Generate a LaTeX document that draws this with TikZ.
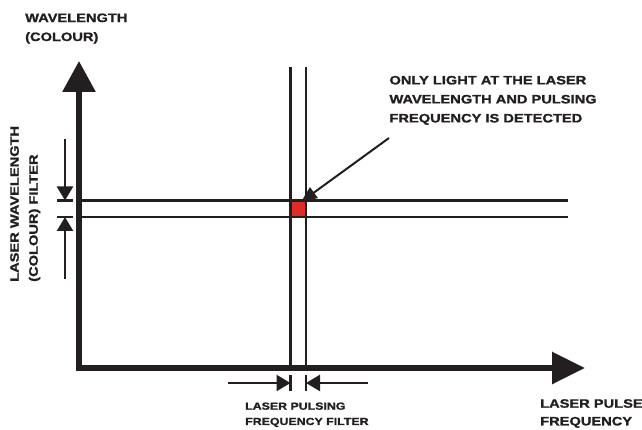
\documentclass[tikz,border=0pt]{standalone}
\usepackage{fontspec}
\setmainfont{Liberation Sans}
\newfontfamily\heavy[BoldFeatures={FakeStretch=1.2,FakeBold=1.3}]{Liberation Sans}
\usetikzlibrary{arrows.meta,positioning,calc}
\definecolor{ink}{RGB}{35,31,32}
\definecolor{hitred}{RGB}{222,45,38}
\tikzset{
 axis/.style={draw=ink,line width=6pt,line join=miter,
              {Triangle[length=31pt,width=32pt]}-{Triangle[length=33pt,width=31pt]}},
 gate/.style={draw=ink,line width=2.5pt},
 dimarrow/.style={draw=ink,line width=2.5pt,-{Triangle[length=14pt,width=16pt]}},
 note/.style={draw=ink,line width=2pt,-{Triangle[length=16pt,width=13pt]}},
 spot/.style={fill=hitred,draw=none,minimum size=15.5pt,inner sep=0pt},
 lbl/.style={text=ink,align=left,inner sep=0pt,anchor=north west,
             font=\heavy\bfseries\fontsize{12.2}{19}\selectfont},
 smalllbl/.style={lbl,font=\heavy\bfseries\fontsize{10.3}{15.3}\selectfont}
}

\begin{document}
\begin{tikzpicture}[x=1pt,y=-1pt]
\useasboundingbox (0,0) rectangle (642,430);
% detection spot and filter windows
\node[spot] (spot) at (298.25,208.75) {};
\foreach \y in {200.5,217} \draw[gate] (79,\y) -- (567.5,\y);
\foreach \x in {290.5,306} \draw[gate] (\x,66.7) -- (\x,368);
% axes
\coordinate (O) at (79,368);
\coordinate (ytip) at (79,61);
\coordinate (xtip) at (585,368);
\draw[axis] (ytip) -- (O) -- (xtip);
% filter width markers
\coordinate (wa) at (65,200.5);
\coordinate (wb) at (65,217);
\coordinate (pa) at (290.5,383);
\coordinate (pb) at (306,383);
\draw[dimarrow] (65,139) -- (wa);
\draw[dimarrow] (65,279) -- (wb);
\draw[dimarrow] (228,383) -- (pa);
\draw[dimarrow] (368,383) -- (pb);
\foreach \c in {wa,wb} \draw[gate] ([xshift=-8pt]\c) -- ([xshift=8pt]\c);
\foreach \c in {pa,pb} \draw[gate] ([yshift=-8pt]\c) -- ([yshift=8pt]\c);
% labels
\node[lbl] (ylab) at (25,13.3) {WAVELENGTH\\(COLOUR)};
\node[lbl,rotate=90] (wlab) at (10,282) {LASER WAVELENGTH\\(COLOUR) FILTER};
\node[lbl] (det) at (389.3,75.7) {ONLY LIGHT AT THE LASER\\WAVELENGTH AND PULSING\\FREQUENCY IS DETECTED};
\node[smalllbl] (plab) at (245,402.3) {LASER PULSING\\FREQUENCY FILTER};
\node[lbl,font=\heavy\bfseries\fontsize{12.2}{17.7}\selectfont] (xlab) at (540,399) {LASER PULSE\\FREQUENCY};
\coordinate (from) at (389,138);
\coordinate (hit) at (301,202);
\draw[note] (from) -- (hit);
\end{tikzpicture}
\end{document}
